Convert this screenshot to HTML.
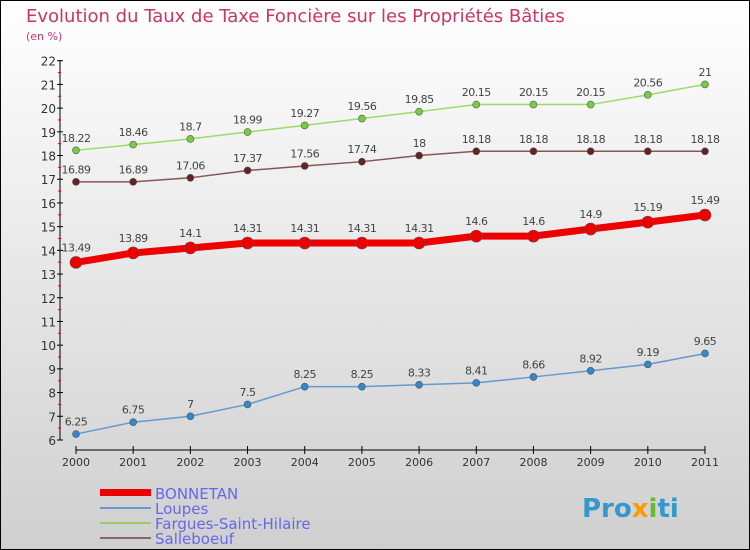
<!DOCTYPE html>
<html><head><meta charset="utf-8"><style>
body{margin:0;}
svg{display:block;font-family:"DejaVu Sans","Liberation Sans",sans-serif;}
</style></head><body>
<svg id="c" width="750" height="550" xmlns="http://www.w3.org/2000/svg">
<defs><linearGradient id="bg" x1="0" y1="0" x2="0" y2="1"><stop offset="0" stop-color="#ffffff"/><stop offset="1" stop-color="#cfcfcf"/></linearGradient></defs>
<rect x="0.5" y="0.5" width="749" height="549" fill="url(#bg)" stroke="#000"/>
<text x="26" y="22" font-size="18" fill="#cc3366">Evolution du Taux de Taxe Foncière sur les Propriétés Bâties</text>
<text x="26" y="40" font-size="11" fill="#cc3366">(en %)</text>
<g id="axes"></g><g id="series"></g>
<g>
<rect x="100" y="489" width="51" height="7" fill="#ee0000"/>
<rect x="100" y="507" width="51" height="2" fill="#6699cc"/>
<rect x="100" y="522" width="51" height="2" fill="#99cc66"/>
<rect x="100" y="537" width="51" height="2" fill="#886666"/>
<text x="155" y="499" font-size="15" fill="#6666ee">BONNETAN</text>
<text x="155" y="514" font-size="15" fill="#6666ee">Loupes</text>
<text x="155" y="529" font-size="15" fill="#6666ee">Fargues-Saint-Hilaire</text>
<text x="155" y="544" font-size="15" fill="#6666ee">Salleboeuf</text>
</g>
<text x="582" y="517" font-size="26" font-weight="bold" fill="#3399cc">Pro<tspan fill="#ff9900">x</tspan><tspan fill="#66bb33">i</tspan>ti</text>
</svg>
<script>
const years=[2000,2001,2002,2003,2004,2005,2006,2007,2008,2009,2010,2011];
const bonnetan=[13.49,13.89,14.1,14.31,14.31,14.31,14.31,14.6,14.6,14.9,15.19,15.49];
const loupes=[6.25,6.75,7,7.5,8.25,8.25,8.33,8.41,8.66,8.92,9.19,9.65];
const fargues=[18.22,18.46,18.7,18.99,19.27,19.56,19.85,20.15,20.15,20.15,20.56,21];
const salleboeuf=[16.89,16.89,17.06,17.37,17.56,17.74,18,18.18,18.18,18.18,18.18,18.18];
const yTicks=[6,7,8,9,10,11,12,13,14,15,16,17,18,19,20,21,22];
const NS="http://www.w3.org/2000/svg";
const xs=i=>76+i*(705-76)/(years.length-1);
const ys=v=>440-(v-6)*(440-60.7)/16;
function mk(t,a,p){const e=document.createElementNS(NS,t);for(const k in a)e.setAttribute(k,a[k]);p.appendChild(e);return e;}
const ax=document.getElementById('axes');
let l=mk('line',{x1:60,y1:60,x2:60,y2:440,stroke:'#000'},ax);


l=mk('line',{x1:76,y1:450,x2:705,y2:450,stroke:'#000'},ax);


yTicks.forEach((v,i)=>{
 const y=ys(v);
 mk('line',{x1:57,y1:y,x2:63,y2:y,stroke:'#000'},ax);
 if(i<yTicks.length-1)mk('line',{x1:58,y1:ys(v+0.5),x2:61,y2:ys(v+0.5),stroke:'#e00'},ax);
 const t=mk('text',{x:56,y:y+5,'font-size':12,'text-anchor':'end',fill:'#333'},ax);t.textContent=v;
 
 
});
years.forEach((yr,i)=>{
 const x=xs(i);
 mk('line',{x1:x,y1:446,x2:x,y2:454,stroke:'#000'},ax);
 const t=mk('text',{x:x,y:466,'font-size':11,'text-anchor':'middle',fill:'#333'},ax);t.textContent=yr;
 
 
});
const sg=document.getElementById('series');
function series(name,data,color,w,r,dot){
 const g=mk('g',{},sg);
 
 
 mk('polyline',{points:data.map((v,i)=>xs(i)+','+ys(v)).join(' '),fill:'none',stroke:color,'stroke-width':w,'stroke-linejoin':'round'},g);
 data.forEach((v,i)=>{
  const c=mk('circle',{cx:xs(i),cy:ys(v),r:r,fill:dot,stroke:'#555','stroke-width':0.6},g);
  
  
  const t=mk('text',{x:xs(i),y:ys(v)-r-5,'font-size':11,'text-anchor':'middle',fill:'#444','letter-spacing':'-0.5'},g);
  t.textContent=v;
  
  
 });
}
series('loupes',loupes,'#6699cc',1.5,3.5,'#3388cc');
series('fargues',fargues,'#99dd66',1.5,3.5,'#77cc44');
series('salleboeuf',salleboeuf,'#885555',1.5,3.5,'#662222');
series('bonnetan',bonnetan,'#ee0000',7,6,'#ee0000');
</script>
</body></html>
